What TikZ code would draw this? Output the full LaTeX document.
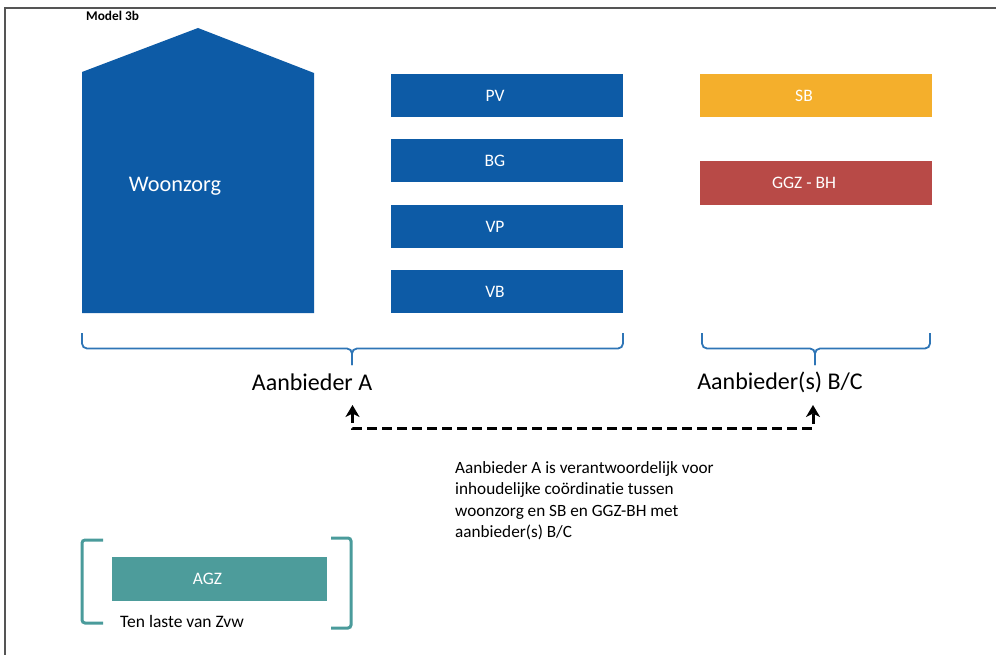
\documentclass[tikz,border=0pt]{standalone}
\usepackage{fontspec}
\setmainfont[Ligatures=NoCommon]{Carlito}
\usetikzlibrary{arrows.meta}
\definecolor{mblue}{RGB}{13,91,166}
\definecolor{bracecol}{RGB}{46,117,182}
\definecolor{sbcol}{RGB}{244,175,44}
\definecolor{ggzcol}{RGB}{184,74,71}
\definecolor{agzcol}{RGB}{77,156,155}
\definecolor{tealcol}{RGB}{74,155,155}
\definecolor{framecol}{RGB}{85,85,85}
\tikzset{
  boxstyle/.style={minimum width=232pt, minimum height=43pt, inner sep=0pt, text=white, font=\fontsize{17.5}{20}\selectfont, execute at begin node={\hspace*{-24pt}}},
  bracestyle/.style={draw=bracecol, line width=1.8pt, rounded corners=5pt},
  bracketstyle/.style={draw=tealcol, line width=3pt, rounded corners=3pt},
  labelstyle/.style={font=\fontsize{24}{28}\selectfont, inner sep=0pt},
  dasharrow/.style={line width=3pt, dash pattern=on 10pt off 5pt, {Stealth[length=12pt,width=14pt,inset=3.5pt]}-{Stealth[length=12pt,width=14pt,inset=3.5pt]}}
}
\begin{document}
\begin{tikzpicture}[x=1pt,y=-1pt]
\useasboundingbox (0,0) rectangle (996,655);
% frame
\draw[framecol, line width=1.6pt] (5,655) -- (5,8) -- (996,8);
% title
\node[font=\bfseries\fontsize{13.3}{15}\selectfont, inner sep=0pt, anchor=west] (title) at (86,16) {Model 3b};
% house
\fill[mblue] (82,72) -- (198,28) -- (314,73) -- (314,313) -- (82,313) -- cycle;
\node[text=white, font=\fontsize{22.3}{26}\selectfont, inner sep=0pt] (woon) at (175,186) {Woonzorg};
% boxes
\node[boxstyle, fill=mblue] (pv) at (507,95.5) {PV};
\node[boxstyle, fill=mblue] (bg) at (507,160.5) {BG};
\node[boxstyle, fill=mblue] (vp) at (507,226.5) {VP};
\node[boxstyle, fill=mblue] (vb) at (507,291.5) {VB};
\node[boxstyle, fill=sbcol] (sb) at (816,95.5) {SB};
\node[boxstyle, fill=ggzcol, minimum height=44pt] (ggz) at (816,183) {GGZ - BH};
% braces
\draw[bracestyle] (82,333) -- (82,348.5) -- (352,348.5) -- (352,365);
\draw[bracestyle] (623,333) -- (623,348.5) -- (352,348.5) -- (352,365);
\draw[bracestyle] (702,333) -- (702,348.5) -- (815,348.5) -- (815,365);
\draw[bracestyle] (930,333) -- (930,348.5) -- (815,348.5) -- (815,365);
% labels
\node[labelstyle] (aA) at (312,382) {Aanbieder A};
\node[labelstyle] (aBC) at (780,382) {Aanbieder(s) B/C};
% dashed arrow
\coordinate (pA) at (352.5,405);
\coordinate (cA) at (352.5,428);
\coordinate (cB) at (813,428);
\coordinate (pB) at (813,405);
\draw[dasharrow] (pA) -- (cA) -- (cB) -- (pB);
% explanation
\node[anchor=north west, align=left, inner sep=0pt, font=\fontsize{17.2}{21.5}\selectfont] (expl) at (455,461) {Aanbieder A is verantwoordelijk voor\\inhoudelijke coördinatie tussen\\woonzorg en SB en GGZ-BH met\\aanbieder(s) B/C};
% AGZ
\draw[bracketstyle] (103,540) -- (82,540) -- (82,623) -- (103,623);
\draw[bracketstyle] (331,538) -- (351,538) -- (351,628) -- (331,628);
\node[boxstyle, fill=agzcol, minimum width=215pt, minimum height=44pt] (agz) at (219.5,579) {AGZ};
\node[anchor=west, inner sep=0pt, font=\fontsize{17.5}{20}\selectfont] (zvw) at (120,621) {Ten laste van Zvw};
\end{tikzpicture}
\end{document}
